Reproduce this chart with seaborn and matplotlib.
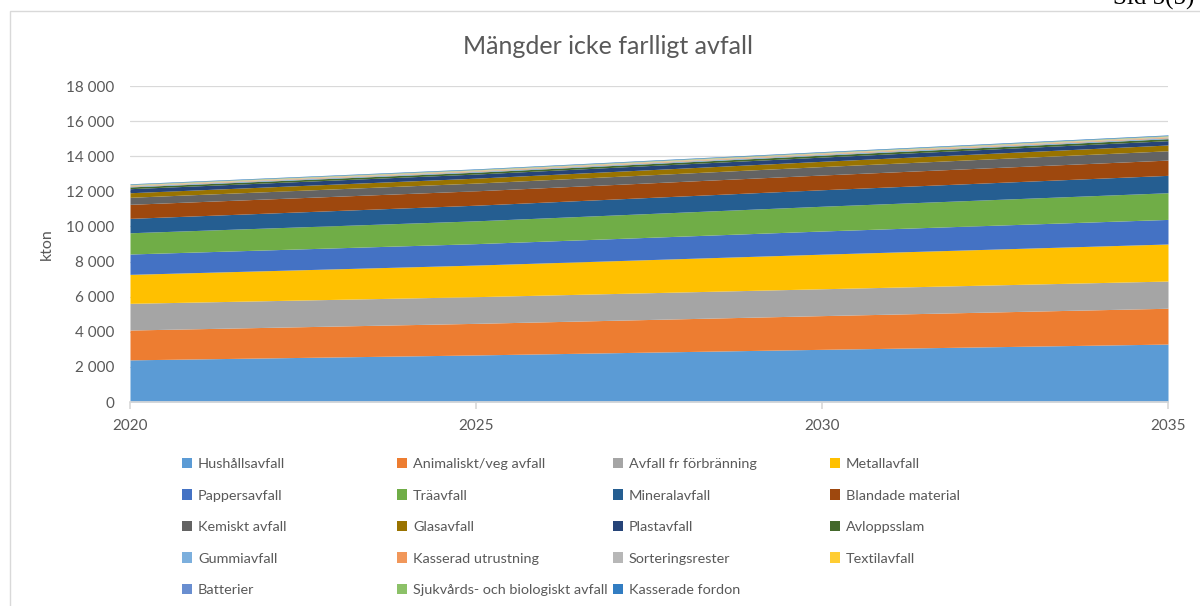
import numpy as np
import pandas as pd
import matplotlib
matplotlib.use("Agg")
import matplotlib.pyplot as plt
from matplotlib.patches import Patch, Rectangle
from matplotlib.ticker import FuncFormatter
import seaborn as sns

years = [2020, 2025, 2030, 2035]

categories = [
    "Hushållsavfall", "Animaliskt/veg avfall", "Avfall fr förbränning", "Metallavfall",
    "Pappersavfall", "Träavfall", "Mineralavfall", "Blandade material",
    "Kemiskt avfall", "Glasavfall", "Plastavfall", "Avloppsslam",
    "Gummiavfall", "Kasserad utrustning", "Sorteringsrester", "Textilavfall",
    "Batterier", "Sjukvårds- och biologiskt avfall", "Kasserade fordon",
]

hushall = [2400, 2680, 3000, 3300]
animaliskt = [1700, 1800, 1920, 2040]
forbranning = [1520, 1520, 1530, 1550]
metall = [1650, 1800, 1970, 2110]
papper = [1160, 1220, 1320, 1400]
tra = [1210, 1300, 1410, 1520]
mineral = [820, 890, 940, 990]
blandade = [800, 820, 840, 870]
kemiskt = [400, 440, 480, 530]
glas = [260, 280, 300, 330]
plast = [230, 235, 240, 245]
avlopp = [100, 105, 110, 115]
gummi = [40, 42, 45, 48]
utrustning = [30, 32, 34, 36]
sortering = [30, 32, 34, 36]
textil = [20, 21, 22, 23]
batterier = [10, 11, 12, 13]
sjukvard = [20, 21, 22, 23]
fordon = [30, 32, 34, 36]

series = [hushall, animaliskt, forbranning, metall, papper, tra, mineral, blandade,
          kemiskt, glas, plast, avlopp, gummi, utrustning, sortering, textil,
          batterier, sjukvard, fordon]

colors = ["#5B9BD5", "#ED7D31", "#A5A5A5", "#FFC000", "#4472C4", "#70AD47",
          "#255E91", "#9E480E", "#636363", "#997300", "#264478", "#43682B",
          "#7CAFDD", "#F1975A", "#B7B7B7", "#FFCD33", "#698ED0", "#8CC168",
          "#327DC2"]

df = pd.DataFrame({c: s for c, s in zip(categories, series)}, index=years)

sns.set_theme(style="white")
plt.rcParams["font.family"] = ["Lato", "DejaVu Sans"]
palette = sns.color_palette(colors)

W, H = 1200, 606
fig = plt.figure(figsize=(W / 100, H / 100), dpi=100)
fig.patch.set_facecolor("white")

# chart border
fig.add_artist(Rectangle((10 / W, -0.1), 1.2, 1 - 11 / H + 0.1, transform=fig.transFigure,
                         fill=False, edgecolor="#D9D9D9", linewidth=1.0))
fig.text(1113 / W, 1 - 5 / H, "Sid 5(5)", family="Liberation Serif", fontsize=18,
         va="baseline", ha="left", color="black")

ax = fig.add_axes([130 / W, 1 - 402 / H, (1168 - 130) / W, (402 - 86) / H])
ax.stackplot(df.index, *[df[c].values for c in categories], colors=palette,
             labels=categories, linewidth=0)

ax.set_xlim(2020, 2035)
ax.set_ylim(0, 18000)
ax.set_xticks([2020, 2025, 2030, 2035])
ax.set_yticks(np.arange(0, 18001, 2000))
ax.yaxis.set_major_formatter(FuncFormatter(lambda v, p: f"{int(v):,}".replace(",", " ")))
ax.grid(axis="y", color="#D9D9D9", linewidth=0.9)
ax.set_axisbelow(True)
for s in ["top", "right", "left"]:
    ax.spines[s].set_visible(False)
ax.spines["bottom"].set_color("#D9D9D9")
ax.tick_params(axis="y", length=0, pad=11, labelsize=11, labelcolor="#595959")
ax.tick_params(axis="x", bottom=True, length=5, color="#D9D9D9", pad=7, labelsize=11,
               labelcolor="#595959")
ax.set_ylabel("kton", fontsize=11.5, color="#595959", labelpad=9)
fig.text(608 / W, 1 - 46 / H, "Mängder icke farlligt avfall", ha="center", va="center",
         fontsize=18, color="#595959")

# legend: 4 columns, row-major order
col_x = [182, 397, 613, 830]
for c in range(4):
    idx = list(range(c, len(categories), 4))
    handles = [Patch(facecolor=palette[i], edgecolor="none") for i in idx]
    labels = [categories[i] for i in idx]
    fig.legend(handles, labels, loc="upper left",
               bbox_to_anchor=(col_x[c] / W, 1 - 458 / H),
               frameon=False, fontsize=10.4, labelcolor="#595959",
               handlelength=0.7, handleheight=0.7, handletextpad=0.4,
               labelspacing=1.34, borderpad=0, borderaxespad=0)

fig.savefig("out.png", dpi=100, facecolor="white")
